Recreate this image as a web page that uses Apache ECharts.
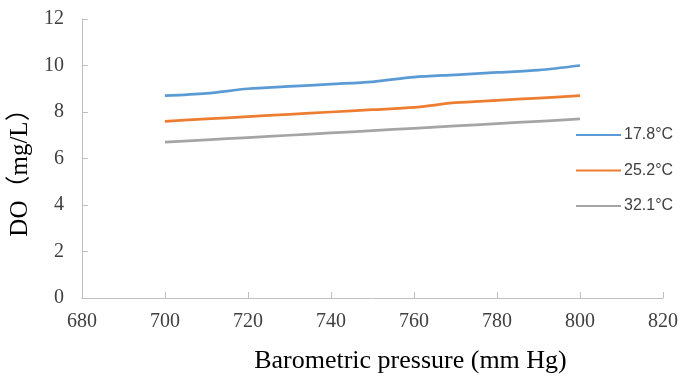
<!DOCTYPE html>
<html><head><meta charset="utf-8">
<script src="https://cdn.jsdelivr.net/npm/echarts@6/dist/echarts.min.js"></script>
<style>html,body{margin:0;padding:0;background:#fff}#c{width:681px;height:379px}</style>
</head><body><div id="c"></div>
<script>
const pressure = [700,710,720,730,740,750,760,770,780,790,800];
const do178 = [8.7,8.8,9.0,9.1,9.2,9.3,9.5,9.6,9.7,9.8,10.0];
const do252 = [7.6,7.7,7.8,7.9,8.0,8.1,8.2,8.4,8.5,8.6,8.7];
const do321 = [6.7,6.8,6.9,7.0,7.1,7.2,7.3,7.4,7.5,7.6,7.7];
const seriesNames = ['17.8°C','25.2°C','32.1°C'];
const colors = ['#5B9BD5','#ED7D31','#A5A5A5'];

const chart = echarts.init(document.getElementById('c'));
const mk = (name, vals, color) => ({
  name, type:'line', smooth:0.3, symbol:'none', showSymbol:false,
  data: pressure.map((p,i)=>[p, vals[i]]),
  lineStyle:{color, width:2.75}, itemStyle:{color}
});
chart.setOption({
  animation:false,
  color: colors,
  grid:{left:80, right:15, top:19, bottom:80, containLabel:false},
  legend:{
    orient:'vertical', left:575, top:127, padding:0, itemWidth:45, itemHeight:18, itemGap:19.5,
    itemStyle:{opacity:0},
    textStyle:{fontFamily:'Liberation Sans', fontSize:16, color:'#404040', padding:[0,0,0,-2]},
    data: seriesNames
  },
  xAxis:{
    type:'value', min:680, max:820, interval:20,
    name:'Barometric pressure (mm Hg)', nameLocation:'middle', nameGap:50,
    nameTextStyle:{fontFamily:'Liberation Serif', fontSize:26, color:'#000', padding:[0,0,0,76]},
    axisLine:{lineStyle:{color:'#BFBFBF', width:1}},
    axisTick:{inside:true, length:6, lineStyle:{color:'#BFBFBF'}},
    axisLabel:{fontFamily:'Liberation Serif', fontSize:20, color:'#404040', margin:14},
    splitLine:{show:false}
  },
  yAxis:{
    type:'value', min:0, max:12, interval:2,
    name:'DO（mg/L）', nameLocation:'middle', nameGap:43, nameRotate:90,
    nameTextStyle:{fontFamily:'Liberation Serif, Noto Sans CJK SC', fontSize:25, color:'#000', padding:[0,16,0,0]},
    axisLine:{show:true, lineStyle:{color:'#BFBFBF', width:1}},
    axisTick:{show:true, inside:true, length:6, lineStyle:{color:'#BFBFBF'}},
    axisLabel:{fontFamily:'Liberation Serif', fontSize:20, color:'#404040', margin:18},
    splitLine:{show:false}
  },
  series:[mk(seriesNames[0], do178, colors[0]), mk(seriesNames[1], do252, colors[1]), mk(seriesNames[2], do321, colors[2])]
});
</script></body></html>
